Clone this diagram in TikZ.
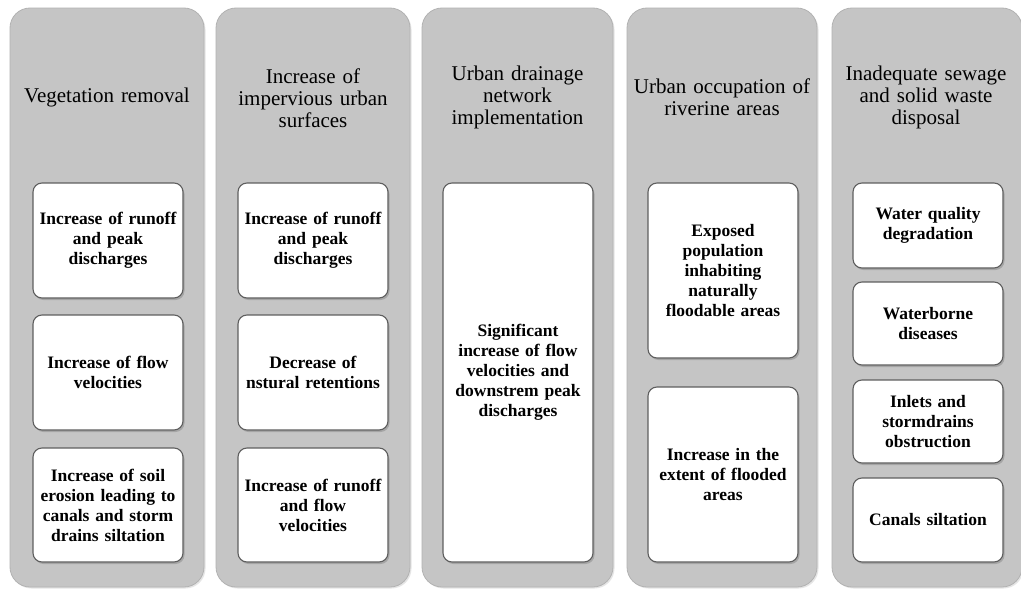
\documentclass[tikz,border=0pt]{standalone}
\usepackage{fontspec}
\setmainfont{Liberation Serif}
\usetikzlibrary{shadows}
\definecolor{panelgray}{RGB}{197,197,197}
\definecolor{paneledge}{RGB}{178,178,178}
\definecolor{boxedge}{RGB}{95,95,95}
\begin{document}
\begin{tikzpicture}[x=1pt,y=-1pt,
  panel/.style={fill=panelgray, draw=paneledge, line width=0.8pt, rounded corners=20pt, inner sep=0pt,
    drop shadow={shadow xshift=1.5pt, shadow yshift=-1.5pt, opacity=0.2}},
  title/.style={font=\fontsize{21}{22}\selectfont, align=center, text width=188pt, inner sep=0pt},
  effect/.style={draw=boxedge, line width=1.1pt, fill=white, rounded corners=9pt,
    text width=146pt, inner sep=2pt, align=center,
    font=\bfseries\fontsize{17.5}{20}\selectfont,
    drop shadow={shadow xshift=1.5pt, shadow yshift=-2pt, opacity=0.45}}]
\useasboundingbox (0,0) rectangle (1021,589);
\fill[white] (0,0) rectangle (1021,589);

% panels
\node[panel, minimum width=194pt, minimum height=579pt] (p1) at (107,297.5) {};
\node[panel, minimum width=194pt, minimum height=579pt] (p2) at (313,297.5) {};
\node[panel, minimum width=191pt, minimum height=579pt] (p3) at (517.5,297.5) {};
\node[panel, minimum width=190pt, minimum height=579pt] (p4) at (722,297.5) {};
\node[panel, minimum width=190pt, minimum height=579pt] (p5) at (927,297.5) {};

% titles
\node[title] (t1) at (107,97) {Vegetation removal};
\node[title] (t2) at (313,98) {Increase of\\impervious urban\\surfaces};
\node[title] (t3) at (517.5,97) {Urban drainage\\network\\implementation};
\node[title] (t4) at (722,97) {Urban occupation of\\riverine areas};
\node[title] (t5) at (926,97) {Inadequate sewage\\and solid waste\\disposal};

% column 1
\node[effect, minimum height=115pt] (a1) at (108,240.5) {Increase of runoff\\and peak\\discharges};
\node[effect, minimum height=115pt] (a2) at (108,372.5) {Increase of flow\\velocities};
\node[effect, minimum height=114pt] (a3) at (108,505) {Increase of soil\\erosion leading to\\canals and storm\\drains siltation};

% column 2
\node[effect, minimum height=115pt] (b1) at (313,240.5) {Increase of runoff\\and peak\\discharges};
\node[effect, minimum height=115pt] (b2) at (313,372.5) {Decrease of\\nstural retentions};
\node[effect, minimum height=114pt] (b3) at (313,505) {Increase of runoff\\and flow\\velocities};

% column 3
\node[effect, minimum height=379pt] (c1) at (518,372.5) {Significant\\increase of flow\\velocities and\\downstrem peak\\discharges};

% column 4
\node[effect, minimum height=175pt] (d1) at (723,270.5) {Exposed\\population\\inhabiting\\naturally\\floodable areas};
\node[effect, minimum height=175pt] (d2) at (723,474.5) {Increase in the\\extent of flooded\\areas};

% column 5
\node[effect, minimum height=85pt] (e1) at (928,225.5) {Water quality\\degradation};
\node[effect, minimum height=83pt] (e2) at (928,323.5) {Waterborne\\diseases};
\node[effect, minimum height=83pt] (e3) at (928,421.5) {Inlets and\\stormdrains\\obstruction};
\node[effect, minimum height=84pt] (e4) at (928,520) {Canals siltation};
\end{tikzpicture}
\end{document}
